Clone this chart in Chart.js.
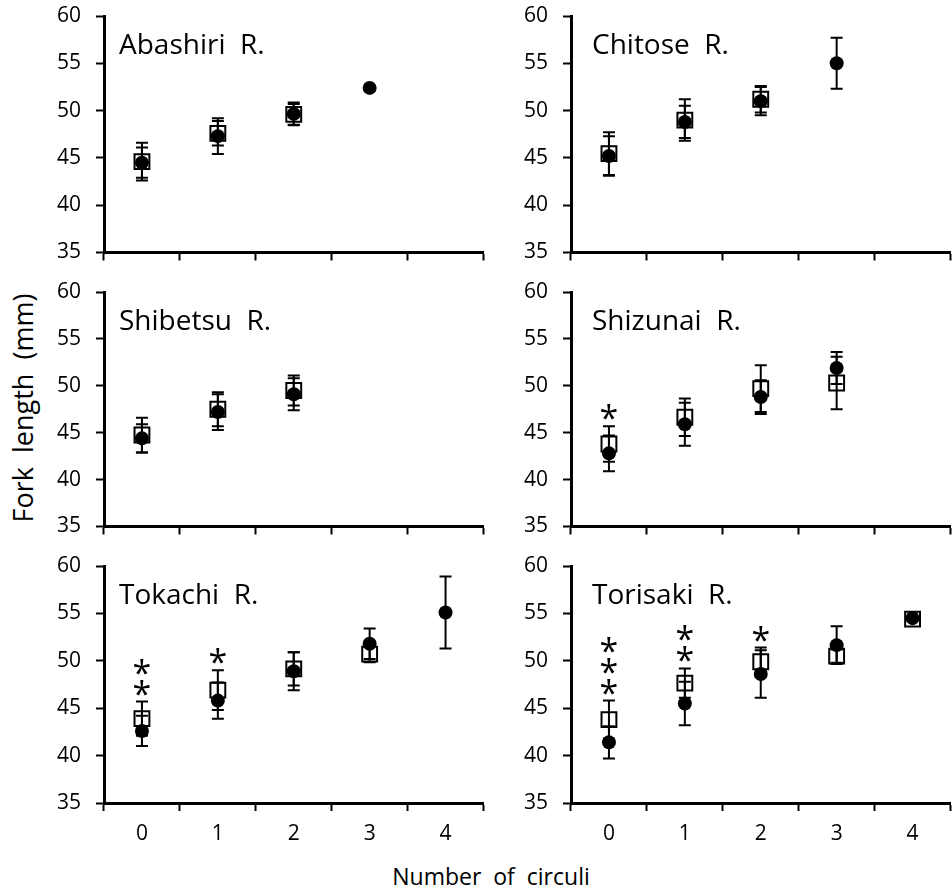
<!DOCTYPE html>
<html>
<head>
<meta charset="utf-8">
<title>Fork length by number of circuli</title>
<script src="https://cdn.jsdelivr.net/npm/chart.js@4.4.1/dist/chart.umd.min.js"></script>
<style>
    html, body { margin: 0; padding: 0; background: #fff; overflow: hidden; }
    body { width: 952px; height: 892px; position: relative; font-family: 'Open Sans', sans-serif; color: #000; }
    .panel { position: absolute; }
    .axis-title { position: absolute; white-space: pre; line-height: 1; }
    #yTitle { left: 22px; top: 408px; font-size: 27px; transform: translate(-50%, -50%) rotate(-90deg); }
    #xTitle { left: 491px; top: 876px; font-size: 23px; transform: translate(-50%, -50%); }
</style>
</head>
<body>
<div class="axis-title" id="yTitle">Fork  length  (mm)</div>
<div class="axis-title" id="xTitle">Number  of  circuli</div>

<script>
// Categories and tick labels
const categories = ['0', '1', '2', '3', '4'];
const yTickValues = [35, 40, 45, 50, 55, 60];

// Open squares / filled circles: mean fork length and SD per number of circuli
const abashiriSquare = [44.6, 47.6, 49.6, null, null];
const abashiriSquareSd = [2.0, 1.3, 1.1, null, null];
const abashiriCircle = [44.5, 47.3, 49.65, 52.4, null];
const abashiriCircleSd = [1.6, 1.9, 1.2, null, null];
const abashiriStars = [0, 0, 0, 0, 0];

const chitoseSquare = [45.45, 49.0, 51.2, null, null];
const chitoseSquareSd = [2.25, 2.2, 1.4, null, null];
const chitoseCircle = [45.2, 48.8, 51.0, 55.0, null];
const chitoseCircleSd = [2.1, 1.7, 1.5, 2.7, null];
const chitoseStars = [0, 0, 0, 0, 0];

const shibetsuSquare = [44.75, 47.5, 49.5, null, null];
const shibetsuSquareSd = [1.85, 1.8, 1.6, null, null];
const shibetsuCircle = [44.4, 47.2, 49.1, null, null];
const shibetsuCircleSd = [1.5, 1.9, 1.7, null, null];
const shibetsuStars = [0, 0, 0, 0, 0];

const shizunaiSquare = [43.8, 46.65, 49.7, 50.3, null];
const shizunaiSquareSd = [1.9, 2.0, 2.5, 2.8, null];
const shizunaiCircle = [42.8, 45.9, 48.8, 51.9, null];
const shizunaiCircleSd = [1.9, 2.3, 1.8, 1.7, null];
const shizunaiStars = [1, 0, 0, 0, 0];

const tokachiSquare = [43.9, 46.9, 49.15, 50.7, null];
const tokachiSquareSd = [1.8, 2.1, 1.75, 0.85, null];
const tokachiCircle = [42.6, 45.8, 48.9, 51.8, 55.1];
const tokachiCircleSd = [1.6, 1.9, 2.0, 1.6, 3.8];
const tokachiStars = [2, 1, 0, 0, 0];

const torisakiSquare = [43.8, 47.65, 49.9, 50.5, 54.4];
const torisakiSquareSd = [2.0, 1.55, 1.5, 0.7, null];
const torisakiCircle = [41.4, 45.5, 48.6, 51.65, 54.5];
const torisakiCircleSd = [1.7, 2.3, 2.5, 2.0, null];
const torisakiStars = [3, 2, 1, 0, 0];

const panels = [
    { name: 'Abashiri  R.', square: abashiriSquare, squareSd: abashiriSquareSd, circle: abashiriCircle, circleSd: abashiriCircleSd, stars: abashiriStars },
    { name: 'Chitose  R.', square: chitoseSquare, squareSd: chitoseSquareSd, circle: chitoseCircle, circleSd: chitoseCircleSd, stars: chitoseStars },
    { name: 'Shibetsu  R.', square: shibetsuSquare, squareSd: shibetsuSquareSd, circle: shibetsuCircle, circleSd: shibetsuCircleSd, stars: shibetsuStars },
    { name: 'Shizunai  R.', square: shizunaiSquare, squareSd: shizunaiSquareSd, circle: shizunaiCircle, circleSd: shizunaiCircleSd, stars: shizunaiStars },
    { name: 'Tokachi  R.', square: tokachiSquare, squareSd: tokachiSquareSd, circle: tokachiCircle, circleSd: tokachiCircleSd, stars: tokachiStars },
    { name: 'Torisaki  R.', square: torisakiSquare, squareSd: torisakiSquareSd, circle: torisakiCircle, circleSd: torisakiCircleSd, stars: torisakiStars }
];

// Page layout (pixels)
const colLeft = [0, 467];
const rowTop = [0, 276, 550];
const canvasWidth = 496;
const plotTopPad = 16;
const plotHeight = [239, 237, 237];
const titleDx = [15, 21];
const titleDy = 38;
const fontFamily = "'Open Sans', sans-serif";

// Error bars, panel name and asterisks
const panelDecor = {
    id: 'panelDecor',
    afterDatasetsDraw(chart, args, opts) {
        const ctx = chart.ctx;
        const xs = chart.scales.x;
        const ys = chart.scales.y;
        ctx.save();
        ctx.strokeStyle = '#000';
        ctx.lineWidth = 2;
        chart.data.datasets.forEach(ds => {
            ds.data.forEach((v, i) => {
                const sd = ds.sd[i];
                if (v == null || sd == null) return;
                const px = xs.getPixelForValue(i);
                const top = ys.getPixelForValue(v + sd);
                const bot = ys.getPixelForValue(v - sd);
                ctx.beginPath();
                ctx.moveTo(px, top); ctx.lineTo(px, bot);
                ctx.moveTo(px - 6, top); ctx.lineTo(px + 6, top);
                ctx.moveTo(px - 6, bot); ctx.lineTo(px + 6, bot);
                ctx.stroke();
            });
        });

        // asterisks above the highest error bar
        ctx.fillStyle = '#000';
        ctx.font = '34px ' + fontFamily;
        ctx.textAlign = 'center';
        ctx.textBaseline = 'alphabetic';
        const m = ctx.measureText('*');
        const shift = (m.actualBoundingBoxAscent - m.actualBoundingBoxDescent) / 2;
        opts.stars.forEach((n, i) => {
            if (!n) return;
            let topPx = Infinity;
            chart.data.datasets.forEach(ds => {
                const v = ds.data[i];
                if (v == null) return;
                const sd = ds.sd[i] || 0;
                topPx = Math.min(topPx, ys.getPixelForValue(v + sd));
            });
            const px = xs.getPixelForValue(i);
            for (let k = 0; k < n; k++) {
                const cy = topPx - 14 - k * 21;
                ctx.fillText('*', px, cy + shift);
            }
        });

        // panel name
        const area = chart.chartArea;
        ctx.textAlign = 'left';
        ctx.font = '28px ' + fontFamily;
        ctx.fillText(opts.title, area.left + opts.dx, area.top + titleDy);
        ctx.restore();
    }
};

function makePanel(p, idx) {
    const col = idx % 2;
    const row = Math.floor(idx / 2);
    const bottomRow = row === 2;
    const xAxisHeight = bottomRow ? 60 : 10;
    const height = plotTopPad + plotHeight[row] + xAxisHeight;

    const holder = document.createElement('div');
    holder.className = 'panel';
    holder.style.left = colLeft[col] + 'px';
    holder.style.top = rowTop[row] + 'px';
    const canvas = document.createElement('canvas');
    canvas.width = canvasWidth;
    canvas.height = height;
    canvas.style.width = canvasWidth + 'px';
    canvas.style.height = height + 'px';
    holder.appendChild(canvas);
    document.body.appendChild(holder);

    const tickFont = { family: fontFamily, size: 21 };

    new Chart(canvas.getContext('2d'), {
        type: 'line',
        data: {
            labels: categories,
            datasets: [
                {
                    // open squares, drawn underneath
                    data: p.square,
                    sd: p.squareSd,
                    order: 2,
                    showLine: false,
                    pointStyle: 'rect',
                    pointRadius: 10.5,
                    pointBorderWidth: 2,
                    pointBorderColor: '#000',
                    pointBackgroundColor: '#fff'
                },
                {
                    // filled circles, drawn on top
                    data: p.circle,
                    sd: p.circleSd,
                    order: 1,
                    showLine: false,
                    pointStyle: 'circle',
                    pointRadius: 7,
                    pointBorderWidth: 0,
                    pointBorderColor: '#000',
                    pointBackgroundColor: '#000'
                }
            ]
        },
        options: {
            responsive: false,
            maintainAspectRatio: false,
            animation: false,
            events: [],
            layout: { padding: { top: plotTopPad, right: 4, left: 0, bottom: 0 } },
            plugins: {
                legend: { display: false },
                tooltip: { enabled: false },
                panelDecor: { title: p.name, stars: p.stars, dx: titleDx[col] }
            },
            scales: {
                x: {
                    type: 'category',
                    offset: true,
                    grid: {
                        offset: true,
                        drawOnChartArea: false,
                        drawTicks: true,
                        tickLength: 8,
                        tickWidth: 2,
                        tickColor: '#000'
                    },
                    border: { display: true, color: '#000', width: 3 },
                    ticks: {
                        display: bottomRow,
                        color: '#000',
                        font: tickFont,
                        padding: 10,
                        maxRotation: 0,
                        autoSkip: false
                    },
                    afterFit: s => {
                        s.height = xAxisHeight;
                        s.paddingLeft = 0;
                        s.paddingRight = 0;
                    }
                },
                y: {
                    min: 35,
                    max: 60,
                    grid: {
                        drawOnChartArea: false,
                        drawTicks: true,
                        tickLength: 8,
                        tickWidth: 2,
                        tickColor: '#000'
                    },
                    border: { display: true, color: '#000', width: 3 },
                    ticks: { color: '#000', font: tickFont, padding: 15 },
                    afterBuildTicks: s => {
                        s.ticks = yTickValues.map(v => ({ value: v }));
                    },
                    afterFit: s => {
                        s.width = 104;
                        s.paddingTop = 0;
                        s.paddingBottom = 0;
                    }
                }
            }
        },
        plugins: [panelDecor]
    });
}

panels.forEach(makePanel);
</script>
</body>
</html>
